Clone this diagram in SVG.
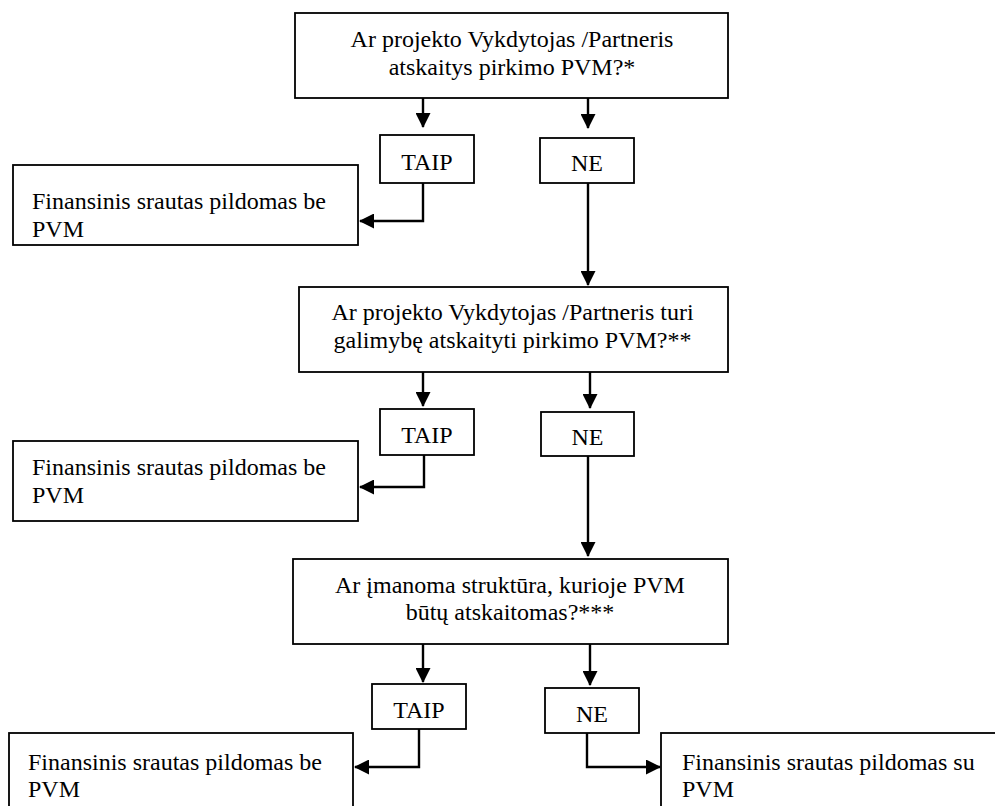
<svg xmlns="http://www.w3.org/2000/svg" width="995" height="806" viewBox="0 0 995 806">
<style>
.box{fill:#fff;stroke:#000;stroke-width:1.8}
text{font-family:"Liberation Serif","Times New Roman",Times,serif;font-size:24px;fill:#000}
.m{text-anchor:middle}
.c{fill:none;stroke:#000;stroke-width:2.4}
</style>
<defs>
<marker id="ah" viewBox="0 0 15 15" refX="14" refY="7.5" markerWidth="15" markerHeight="15" markerUnits="userSpaceOnUse" orient="auto">
<path d="M0,0 L15,7.5 L0,15 z" fill="#000"/>
</marker>
</defs>
<rect width="995" height="806" fill="#fff"/>
<g id="connectors">
<path class="c" d="M423,98 V127" marker-end="url(#ah)"/>
<path class="c" d="M588,98 V128" marker-end="url(#ah)"/>
<path class="c" d="M423,183 V221 H360" marker-end="url(#ah)"/>
<path class="c" d="M588,183 V285" marker-end="url(#ah)"/>
<path class="c" d="M423,372 V406" marker-end="url(#ah)"/>
<path class="c" d="M590,372 V408" marker-end="url(#ah)"/>
<path class="c" d="M424,455 V487 H360" marker-end="url(#ah)"/>
<path class="c" d="M588,456 V556" marker-end="url(#ah)"/>
<path class="c" d="M423,644 V682" marker-end="url(#ah)"/>
<path class="c" d="M590,644 V685" marker-end="url(#ah)"/>
<path class="c" d="M419,729 V767 H355" marker-end="url(#ah)"/>
<path class="c" d="M587,733 V767 H660" marker-end="url(#ah)"/>
</g>
<g id="q1">
<rect class="box" x="295" y="13" width="433" height="85"/>
<text class="m" x="512" y="47">Ar projekto Vykdytojas /Partneris</text>
<text class="m" x="512" y="74.5">atskaitys pirkimo PVM?*</text>
</g>
<g id="taip1">
<rect class="box" x="380" y="135" width="94" height="48"/>
<text class="m" x="427" y="170">TAIP</text>
</g>
<g id="ne1">
<rect class="box" x="540" y="138" width="94" height="45"/>
<text class="m" x="587" y="171">NE</text>
</g>
<g id="res1">
<rect class="box" x="13" y="165" width="345" height="80"/>
<text x="32" y="209">Finansinis srautas pildomas be</text>
<text x="32" y="236.5">PVM</text>
</g>
<g id="q2">
<rect class="box" x="299" y="287" width="429" height="85"/>
<text class="m" x="512.5" y="320">Ar projekto Vykdytojas /Partneris turi</text>
<text class="m" x="512.5" y="347.5">galimybę atskaityti pirkimo PVM?**</text>
</g>
<g id="taip2">
<rect class="box" x="380" y="409" width="94" height="46"/>
<text class="m" x="427" y="443">TAIP</text>
</g>
<g id="ne2">
<rect class="box" x="541" y="412" width="93" height="44"/>
<text class="m" x="587.5" y="445">NE</text>
</g>
<g id="res2">
<rect class="box" x="13" y="441" width="345" height="80"/>
<text x="32" y="475">Finansinis srautas pildomas be</text>
<text x="32" y="502.5">PVM</text>
</g>
<g id="q3">
<rect class="box" x="293" y="559" width="435" height="85"/>
<text class="m" x="510" y="593">Ar įmanoma struktūra, kurioje PVM</text>
<text class="m" x="510" y="620">būtų atskaitomas?***</text>
</g>
<g id="taip3">
<rect class="box" x="372" y="684" width="94" height="45"/>
<text class="m" x="419" y="718">TAIP</text>
</g>
<g id="ne3">
<rect class="box" x="545" y="688" width="94" height="45"/>
<text class="m" x="592" y="722">NE</text>
</g>
<g id="res3">
<rect class="box" x="9" y="733" width="344" height="85"/>
<text x="28" y="770">Finansinis srautas pildomas be</text>
<text x="28" y="797">PVM</text>
</g>
<g id="res4">
<rect class="box" x="661" y="733" width="345" height="85"/>
<text x="682" y="770">Finansinis srautas pildomas su</text>
<text x="682" y="797">PVM</text>
</g>
</svg>
